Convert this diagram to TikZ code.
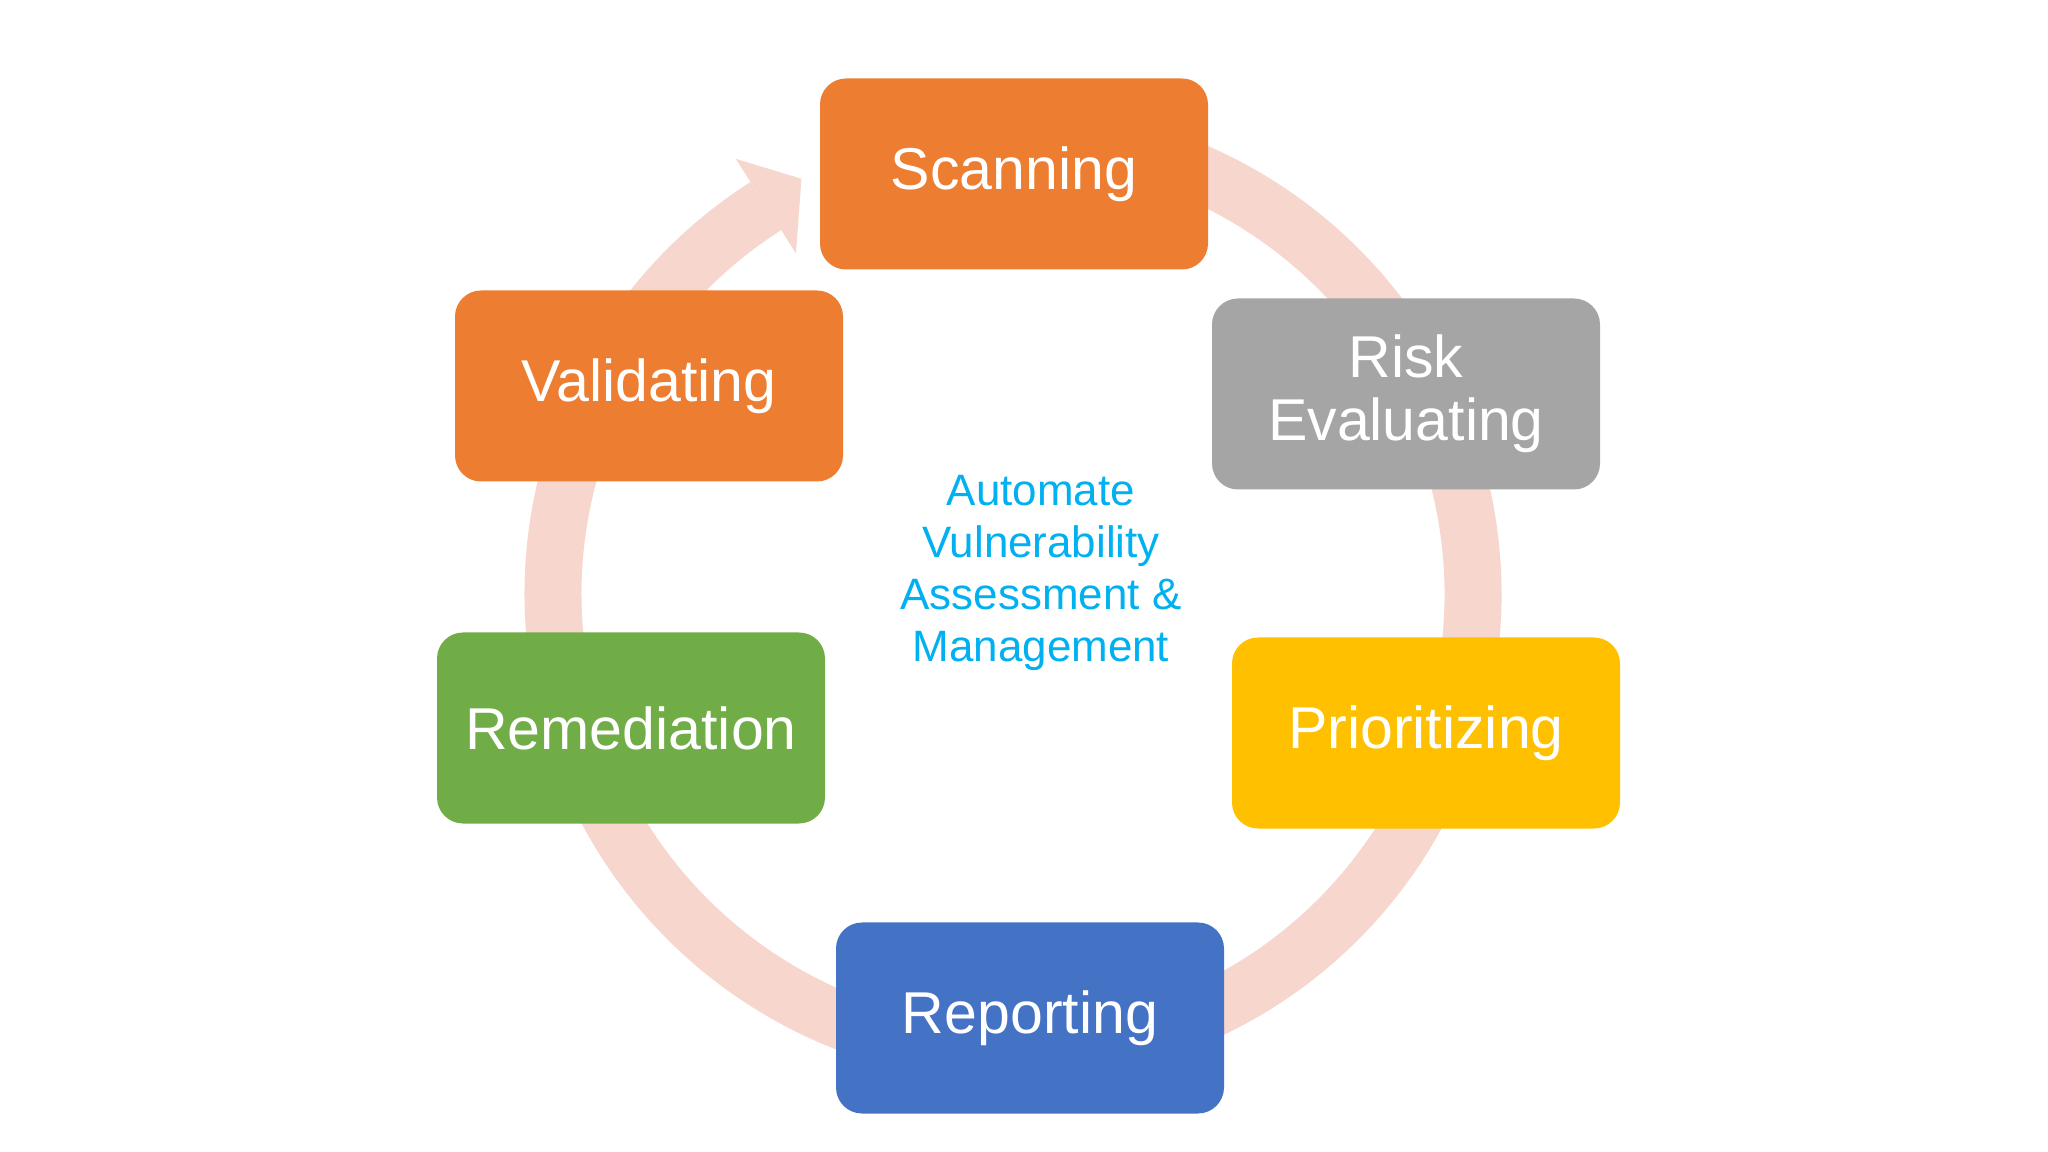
\documentclass[tikz,border=0pt]{standalone}
\usepackage{fontspec}
\setmainfont{Liberation Sans}
\usetikzlibrary{calc}

\definecolor{stepOrange}{HTML}{ED7D31}
\definecolor{stepGray}{HTML}{A5A5A5}
\definecolor{stepYellow}{HTML}{FFC000}
\definecolor{stepBlue}{HTML}{4472C4}
\definecolor{stepGreen}{HTML}{70AD47}
\definecolor{ringPink}{HTML}{F7D6CE}
\definecolor{titleCyan}{HTML}{00B0F0}

\begin{document}
\begin{tikzpicture}[
  stepbox/.style={rectangle,rounded corners=0.26cm,minimum width=3.88cm,
    minimum height=1.91cm,inner sep=0pt,text=white,align=center,
    font=\fontsize{16.8}{18}\selectfont},
  ring/.style={draw=ringPink,line width=0.57cm}]
\useasboundingbox[fill=white] (0,0) rectangle (20.48,-11.52);

\coordinate (O) at (10.13,-5.94);

% Define the cycle ring and its head.
\draw[ring] ($(O)+(100:4.6)$) arc[start angle=100,end angle=-237.5,radius=4.6];
\fill[ringPink] ($(O)+(122.5:5.16)$) -- ($(O)+(117:4.66)$)
  -- ($(O)+(122.5:4.04)$) -- cycle;

% Define the steps.
\node[stepbox,fill=stepOrange] (scan) at (10.14,-1.74) {Scanning};
\node[stepbox,fill=stepGray] (risk) at (14.06,-3.94) {Risk\\Evaluating};
\node[stepbox,fill=stepYellow] (prio) at (14.26,-7.33) {Prioritizing};
\node[stepbox,fill=stepBlue] (report) at (10.30,-10.18) {Reporting};
\node[stepbox,fill=stepGreen] (remed) at (6.31,-7.28) {Remediation};
\node[stepbox,fill=stepOrange] (valid) at (6.49,-3.86) {Validating};

\node[text=titleCyan,align=center,font=\fontsize{12.5}{14.8}\selectfont]
  (title) at (10.41,-5.73) {Automate\\Vulnerability\\Assessment \&\\Management};

\end{tikzpicture}
\end{document}
